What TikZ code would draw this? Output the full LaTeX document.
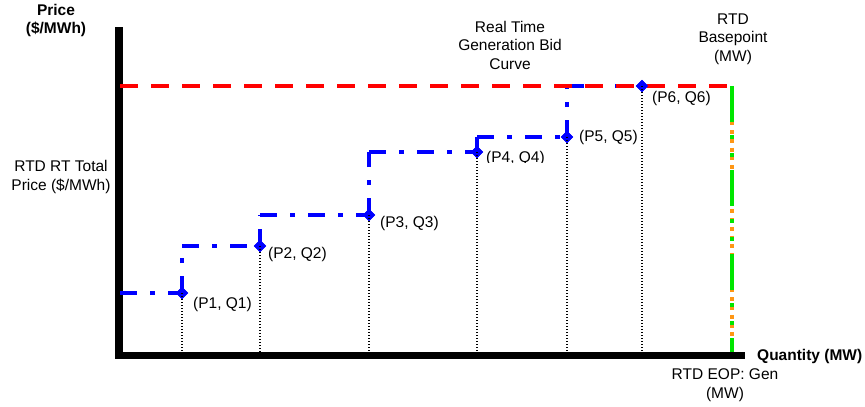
\documentclass[tikz,border=0pt]{standalone}
\usepackage{fontspec}
\setmainfont{Liberation Sans}
\usetikzlibrary{shapes.geometric}
\definecolor{bidblue}{RGB}{0,0,255}
\definecolor{capred}{RGB}{255,0,0}
\definecolor{bpgreen}{RGB}{0,230,0}
\definecolor{bporange}{RGB}{255,150,20}
\begin{document}
\begin{tikzpicture}[x=1pt,y=-1pt,
  txt/.style={font=\fontsize{15.5}{18.5}\selectfont, align=center, inner sep=0pt},
  btxt/.style={txt, font=\fontsize{15.5}{18.5}\selectfont\bfseries},
  plbl/.style={font=\fontsize{15.5}{18.5}\selectfont, anchor=west, inner sep=0pt},
  axisline/.style={draw=black, line width=7.5pt},
  bidline/.style={draw=bidblue, line width=4pt, dash pattern=on 17pt off 13pt on 5pt off 13pt},
  priceline/.style={draw=capred, line width=4pt, dash pattern=on 18pt off 13pt},
  dropline/.style={draw=black, line width=1.1pt, dash pattern=on 1.1pt off 1.9pt},
  ptmark/.style={shape=diamond, fill=bidblue, minimum width=12.5pt, minimum height=12.5pt, inner sep=0pt}
]
\useasboundingbox (0,0) rectangle (865,407);

% axes
\coordinate (ytop) at (119,27);
\coordinate (ybot) at (119,355);
\coordinate (xl) at (115,355.5);
\coordinate (xr) at (745,355.5);
\draw[axisline, line width=8pt] (ytop) -- (ybot);
\draw[axisline] (xl) -- (xr);

% points
\coordinate (s0) at (120,293);
\node[ptmark] (p1) at (182,293) {};
\coordinate (c1) at (182,246);
\node[ptmark] (p2) at (260,246) {};
\coordinate (c2) at (260,215);
\node[ptmark] (p3) at (369,215) {};
\coordinate (c3) at (369,152);
\node[ptmark] (p4) at (477,152) {};
\coordinate (c4) at (477,137);
\node[ptmark] (p5) at (567,137) {};
\coordinate (c5) at (567,86);
\node[ptmark] (p6) at (642,86) {};

% bid curve
\draw[bidline] (s0) -- (p1.center);
\draw[bidline] (p1.center) -- (c1);
\draw[bidline] (c1) -- (p2.center);
\draw[bidline] (p2.center) -- (c2);
\draw[bidline] (c2) -- (p3.center);
\draw[bidline] (p3.center) -- (c3);
\draw[bidline] (c3) -- (p4.center);
\draw[bidline] (p4.center) -- (c4);
\draw[bidline] (c4) -- (p5.center);
\draw[bidline] (p5.center) -- (c5);
\draw[bidline] (c5) -- (p6.center);

% price line
\coordinate (rl) at (120,86);
\coordinate (rr) at (730,86);
\draw[priceline] (rl) -- (rr);

% basepoint line
\coordinate (bt) at (732,86);
\coordinate (bb) at (732,352);
\draw[draw=bporange, line width=4pt, dash pattern=on 4pt off 4.8pt] (bt) -- (bb);
\draw[draw=bpgreen, line width=4pt, dash pattern=on 36pt off 13pt on 4pt off 14pt on 4pt off 13pt] (bt) -- (bb);

% redraw diamonds on top
\foreach \p in {p1,p2,p3,p4,p5,p6} {\node[ptmark] at (\p.center) {};}

% drop lines
\foreach \p/\q in {p1/a1,p2/a2,p3/a3,p4/a4,p5/a5,p6/a6} {
  \coordinate (\q) at (\p.center |- 0,352);
  \draw[dropline] (\p.center) -- (\q);
}

% labels
\node[plbl] (l1) at (193,304) {(P1, Q1)};
\node[plbl] (l2) at (268,254) {(P2, Q2)};
\node[plbl] (l3) at (380,223) {(P3, Q3)};
\begin{scope}
\clip (470,140) rectangle (560,162);
\node[plbl] (l4) at (486,158) {(P4, Q4)};
\end{scope}
\node[plbl] (l5) at (579,137) {(P5, Q5)};
\node[plbl] (l6) at (652,98) {(P6, Q6)};

\node[btxt] (ylab) at (56,20.5) {Price\\(\$/MWh)};
\node[txt] (rtp) at (61,177) {RTD RT Total\\Price (\$/MWh)};
\node[txt] (bidlab) at (510,45) {Real Time\\Generation Bid\\Curve};
\node[txt] (bplab) at (733,39) {RTD\\Basepoint\\(MW)};
\node[btxt, anchor=west] (xlab) at (757,356) {Quantity (MW)};
\node[txt] (eop) at (725,385) {RTD EOP: Gen\\(MW)};
\end{tikzpicture}
\end{document}
